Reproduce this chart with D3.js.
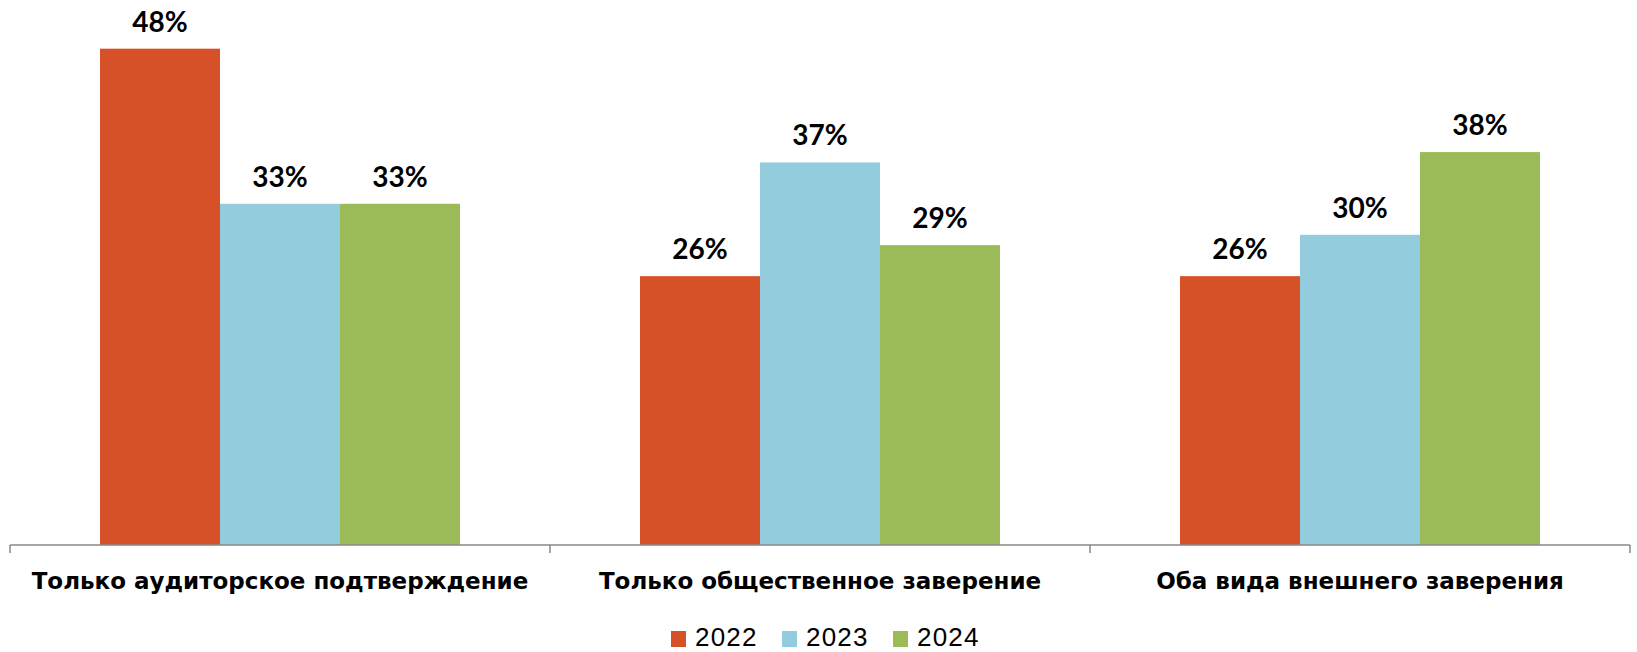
<!DOCTYPE html>
<html lang="ru">
<head>
	<meta charset="UTF-8">
	<title>Внешнее заверение</title>
	<script type="text/javascript" src="https://cdn.jsdelivr.net/npm/d3@7"></script>
	<style>
		body { margin: 0; background: #fff; }
		.value { font-family: Lato, "DejaVu Sans", sans-serif; font-weight: bold; font-size: 28px; fill: #000; }
		.cat { font-family: "DejaVu Sans", sans-serif; font-weight: bold; font-size: 23px; fill: #000; }
		.legend text { font-family: "Liberation Sans", Arial, sans-serif; font-size: 26px; letter-spacing: 1.2px; fill: #000; }
	</style>
</head>
<body>
<script type="text/javascript">
	var categories = ['Только аудиторское подтверждение', 'Только общественное заверение', 'Оба вида внешнего заверения'];
	var years = ['2022', '2023', '2024'];
	var values2022 = [0.48, 0.26, 0.26];
	var values2023 = [0.33, 0.37, 0.30];
	var values2024 = [0.33, 0.29, 0.38];
	var colors = ['#d65127', '#93cddd', '#9bbb59'];

	window.onload = function () {
		var width = 1637, height = 652;
		var left = 10, right = 1630, axisY = 545, top = 28;

		var series = [values2022, values2023, values2024];

		var svg = d3.select('body')
			.append('svg')
			.attr('width', width)
			.attr('height', height);

		var x = d3.scaleBand()
			.domain(categories)
			.range([left, right])
			.padding(0);

		var xs = d3.scaleBand()
			.domain(years)
			.range([0, x.bandwidth()])
			.paddingInner(0)
			.paddingOuter(0.75);

		var y = d3.scaleLinear()
			.domain([0, 0.5])
			.range([axisY, top]);

		var color = d3.scaleOrdinal().domain(years).range(colors);

		var rows = [];
		categories.forEach(function (c, i) {
			years.forEach(function (yr, j) {
				rows.push({cat: c, year: yr, value: series[j][i]});
			});
		});

		var groups = svg.append('g');

		groups.selectAll('rect')
			.data(rows)
			.enter().append('rect')
			.attr('x', function (d) { return x(d.cat) + xs(d.year); })
			.attr('y', function (d) { return y(d.value); })
			.attr('width', xs.bandwidth())
			.attr('height', function (d) { return axisY - y(d.value); })
			.style('fill', function (d) { return color(d.year); });

		groups.selectAll('.value')
			.data(rows)
			.enter().append('text')
			.attr('class', 'value')
			.attr('text-anchor', 'middle')
			.attr('x', function (d) { return x(d.cat) + xs(d.year) + xs.bandwidth() / 2; })
			.attr('y', function (d) { return y(d.value) - 17; })
			.text(function (d) { return Math.round(d.value * 100) + '%'; });

		// category axis with ticks between groups
		var axis = svg.append('g')
			.attr('transform', 'translate(0,' + axisY + ')')
			.call(d3.axisBottom(x).tickSize(0).tickFormat(''));
		axis.select('.domain').remove();

		axis.append('line')
			.attr('x1', left).attr('x2', right)
			.attr('stroke', '#898989').attr('stroke-width', 1.5);

		var edges = categories.map(function (c) { return x(c); }).concat([right]);
		axis.selectAll('.edge')
			.data(edges)
			.enter().append('line')
			.attr('class', 'edge')
			.attr('x1', function (d) { return d; })
			.attr('x2', function (d) { return d; })
			.attr('y1', 0).attr('y2', 8)
			.attr('stroke', '#898989').attr('stroke-width', 1.5);

		axis.selectAll('.cat')
			.data(categories)
			.enter().append('text')
			.attr('class', 'cat')
			.attr('text-anchor', 'middle')
			.attr('x', function (d) { return x(d) + x.bandwidth() / 2; })
			.attr('y', 44)
			.text(function (d) { return d; });

		// legend
		var legend = svg.append('g').attr('class', 'legend')
			.attr('transform', 'translate(671,631)');

		var item = legend.selectAll('g')
			.data(years)
			.enter().append('g')
			.attr('transform', function (d, i) { return 'translate(' + (i * 111) + ',0)'; });

		item.append('rect')
			.attr('width', 15).attr('height', 16)
			.style('fill', function (d) { return color(d); });

		item.append('text')
			.attr('x', 24)
			.attr('y', 15)
			.text(function (d) { return d; });
	};
</script>
</body>
</html>
